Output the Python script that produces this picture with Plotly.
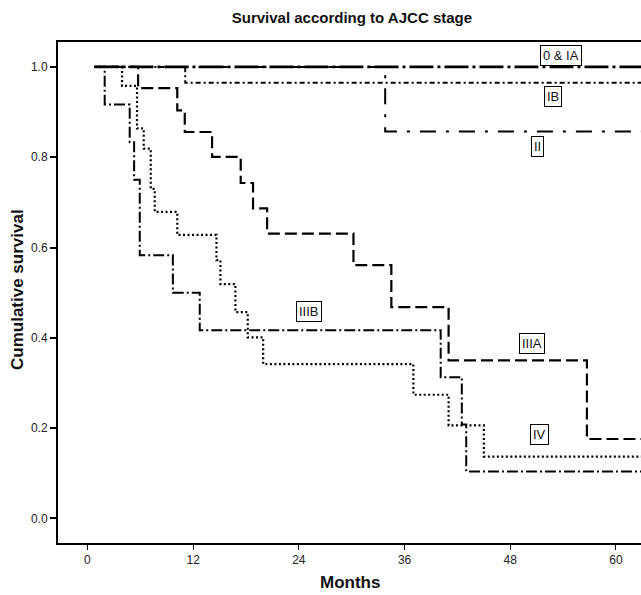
import plotly.graph_objects as go

# ---- data (months, cumulative survival) ----
start_t = 0.8
end_t = 66.0

ia_times = []
ia_surv = []

ib_times = [11.1]
ib_surv = [0.965]

ii_times = [33.8]
ii_surv = [0.857]

iiia_times = [5.75, 10.2, 11.05, 14.15, 17.4, 18.8, 20.4, 30.2, 34.5, 41.0, 56.7]
iiia_surv = [0.953, 0.904, 0.856, 0.801, 0.743, 0.687, 0.631, 0.561, 0.468, 0.350, 0.176]

iiib_times = [1.96, 4.8, 5.3, 5.94, 9.7, 12.75, 40.1, 42.5, 43.0]
iiib_surv = [0.917, 0.833, 0.750, 0.583, 0.500, 0.417, 0.313, 0.208, 0.104]

iv_times = [3.93, 5.63, 6.39, 7.19, 7.64, 10.2, 14.65, 15.1, 16.8, 18.2, 19.95, 37.0, 41.0, 45.0]
iv_surv = [0.958, 0.864, 0.819, 0.730, 0.679, 0.628, 0.572, 0.519, 0.457, 0.401, 0.342, 0.274, 0.206, 0.137]

x_ticks = [0, 12, 24, 36, 48, 60]
y_ticks = [0.0, 0.2, 0.4, 0.6, 0.8, 1.0]

labels = ["0 & IA", "IB", "II", "IIIB", "IIIA", "IV"]
label_x = [53.8, 52.8, 51.1, 25.1, 50.5, 51.3]
label_y = [1.026, 0.934, 0.823, 0.458, 0.388, 0.187]


def km(times, surv):
    xs = [start_t] + list(times) + [end_t]
    ys = [1.0] + list(surv) + [surv[-1] if surv else 1.0]
    return xs, ys


series = [
    (ia_times, ia_surv, dict(color="black", width=2.8, dash="24px,4px,3px,4px")),
    (ib_times, ib_surv, dict(color="black", width=1.9, dash="5px,3px,2px,3px")),
    (ii_times, ii_surv, dict(color="black", width=2.0, dash="16px,10px,3px,10px")),
    (iiia_times, iiia_surv, dict(color="black", width=2.2, dash="12px,5px")),
    (iiib_times, iiib_surv, dict(color="black", width=2.0, dash="11px,3px,2px,3px")),
    (iv_times, iv_surv, dict(color="black", width=2.2, dash="2px,2.5px")),
]

fig = go.Figure()
for t, s, ln in series:
    xs, ys = km(t, s)
    fig.add_trace(go.Scatter(x=xs, y=ys, mode="lines", line_shape="hv",
                             line=ln, showlegend=False, hoverinfo="skip"))

font_fam = "Arial, Liberation Sans, sans-serif"

for txt, lx, ly in zip(labels, label_x, label_y):
    fig.add_annotation(x=lx, y=ly, text=txt, showarrow=False,
                       font=dict(family=font_fam, size=13, color="#111"),
                       bordercolor="black", borderwidth=1, borderpad=2,
                       bgcolor="white")

# axis titles as paper annotations
fig.add_annotation(xref="paper", yref="paper", x=-0.0686, y=0.505,
                   text="<b>Cumulative survival</b>", textangle=-90, showarrow=False,
                   xanchor="center", yanchor="middle",
                   font=dict(family=font_fam, size=17, color="#111"))
fig.add_annotation(xref="paper", yref="paper", x=0.501, y=-0.079,
                   text="<b>Months</b>", showarrow=False,
                   xanchor="center", yanchor="middle",
                   font=dict(family=font_fam, size=17, color="#111"))

fig.update_layout(
    width=641, height=595,
    margin=dict(l=58, r=0, t=42, b=52),
    paper_bgcolor="white", plot_bgcolor="white",
    title=dict(text="<b>Survival according to AJCC stage</b>", x=0.549, xanchor="center",
               y=1 - 18 / 595, yanchor="middle",
               font=dict(family=font_fam, size=15, color="#111")),
    xaxis=dict(range=[-3.34, 62.84], tickvals=x_ticks, ticktext=[str(v) for v in x_ticks],
               showgrid=False, zeroline=False, showline=True, linecolor="black", linewidth=2,
               mirror=True, ticks="outside", ticklen=5, tickwidth=1.2, tickcolor="black",
               automargin=False,
               tickfont=dict(family=font_fam, size=12, color="#222")),
    yaxis=dict(range=[-0.0544, 1.0553], tickvals=y_ticks,
               ticktext=["%.1f" % v for v in y_ticks],
               showgrid=False, zeroline=False, showline=True, linecolor="black", linewidth=2,
               mirror=False, ticks="outside", ticklen=6, tickwidth=2, tickcolor="black",
               automargin=False,
               tickfont=dict(family=font_fam, size=12, color="#222")),
)

fig.write_html("out.html", config={"displayModeBar": False},
               post_script="document.body.style.margin='0';document.body.style.padding='0';"
                           "document.body.style.overflow='hidden';")
